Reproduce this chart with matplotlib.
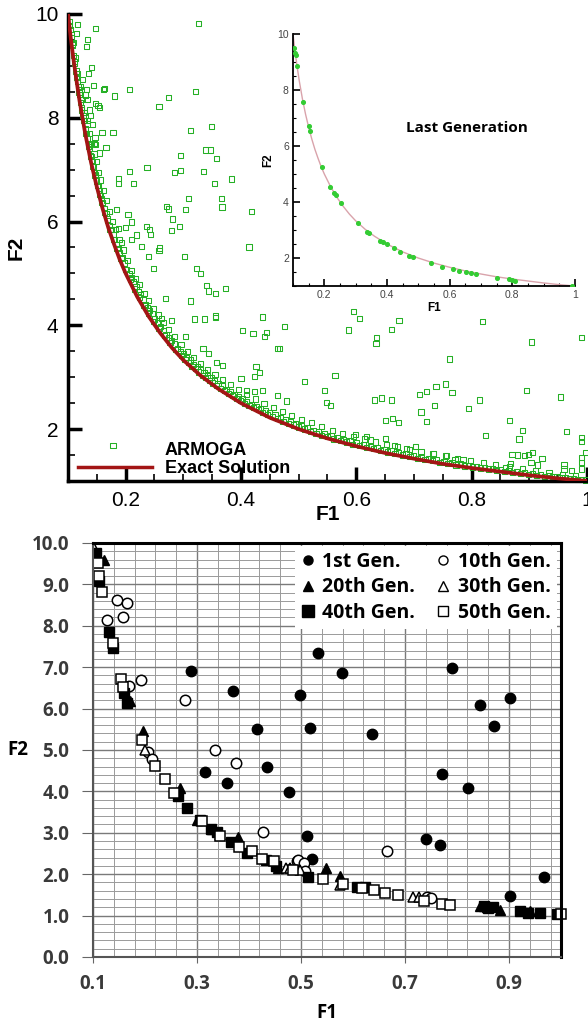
import matplotlib.pyplot as plt
from matplotlib.lines import Line2D
from matplotlib.ticker import MultipleLocator, FixedLocator, FormatStrFormatter

plt.rcParams['font.family'] = ['Liberation Sans', 'DejaVu Sans']

# ---- top panel: ARMOGA population vs exact front ----
exact_f1 = [0.1, 0.105, 0.11, 0.115, 0.12, 0.13, 0.14, 0.15, 0.16, 0.17, 0.18, 0.19, 0.2, 0.22, 0.24,
            0.26, 0.28, 0.3, 0.33, 0.36, 0.4, 0.45, 0.5, 0.55, 0.6, 0.65, 0.7, 0.75, 0.8, 0.85, 0.9, 0.95, 1.0]
exact_f2 = [10.0, 9.52, 9.09, 8.70, 8.33, 7.69, 7.14, 6.67, 6.25, 5.88, 5.56, 5.26, 5.0, 4.55, 4.17,
            3.85, 3.57, 3.33, 3.03, 2.78, 2.5, 2.22, 2.0, 1.82, 1.67, 1.54, 1.43, 1.33, 1.25, 1.18, 1.11, 1.05, 1.0]

# points packed along the front
front_f1 = [0.102, 0.104, 0.106, 0.108, 0.110, 0.112, 0.114, 0.116, 0.118, 0.120, 0.122, 0.124, 0.126, 0.128,
            0.130, 0.132, 0.134, 0.136, 0.138, 0.140, 0.142, 0.144, 0.146, 0.148, 0.150, 0.152, 0.154, 0.156,
            0.158, 0.160, 0.163, 0.166, 0.169, 0.172, 0.175, 0.178, 0.181, 0.184, 0.187, 0.190, 0.194, 0.198,
            0.202, 0.206, 0.210, 0.214, 0.218, 0.222, 0.226, 0.230, 0.234, 0.238, 0.242, 0.246, 0.250, 0.255,
            0.260, 0.265, 0.270, 0.275, 0.280, 0.285, 0.290, 0.295, 0.300, 0.306, 0.312, 0.318, 0.324, 0.330,
            0.336, 0.342, 0.348, 0.354, 0.360, 0.367, 0.374, 0.381, 0.388, 0.395, 0.402, 0.410, 0.418, 0.426,
            0.434, 0.442, 0.450, 0.459, 0.468, 0.477, 0.486, 0.495, 0.505, 0.515, 0.525, 0.535, 0.545, 0.556,
            0.567, 0.578, 0.589, 0.600, 0.612, 0.624, 0.636, 0.648, 0.660, 0.673, 0.686, 0.699, 0.712, 0.725,
            0.738, 0.752, 0.766, 0.780, 0.794, 0.808, 0.822, 0.836, 0.850, 0.864, 0.878, 0.892, 0.906, 0.920,
            0.934, 0.948, 0.962, 0.976, 0.990]
front_f2 = [9.85, 9.70, 9.55, 9.40, 9.20, 9.05, 8.90, 8.70, 8.60, 8.45, 8.30, 8.15, 8.05, 7.95,
            7.80, 7.70, 7.60, 7.45, 7.40, 7.25, 7.15, 7.05, 6.95, 6.90, 6.78, 6.70, 6.60, 6.50,
            6.45, 6.35, 6.25, 6.15, 6.05, 5.92, 5.85, 5.75, 5.65, 5.55, 5.48, 5.40, 5.30, 5.20,
            5.08, 5.00, 4.92, 4.85, 4.75, 4.65, 4.60, 4.50, 4.40, 4.35, 4.28, 4.22, 4.12, 4.05,
            3.98, 3.90, 3.82, 3.76, 3.70, 3.64, 3.56, 3.50, 3.45, 3.38, 3.33, 3.25, 3.20, 3.14,
            3.08, 3.03, 2.99, 2.93, 2.88, 2.83, 2.77, 2.72, 2.67, 2.62, 2.58, 2.53, 2.48, 2.44,
            2.39, 2.35, 2.31, 2.27, 2.22, 2.18, 2.14, 2.10, 2.06, 2.02, 1.98, 1.95, 1.91, 1.87,
            1.83, 1.80, 1.77, 1.74, 1.70, 1.67, 1.64, 1.61, 1.58, 1.55, 1.52, 1.49, 1.46, 1.44,
            1.41, 1.38, 1.36, 1.33, 1.30, 1.28, 1.26, 1.24, 1.22, 1.20, 1.18, 1.16, 1.14, 1.12,
            1.10, 1.08, 1.07, 1.05, 1.03]

# second, looser row just above the front
front2_f1 = [0.105, 0.109, 0.113, 0.117, 0.121, 0.125, 0.129, 0.133, 0.137, 0.141, 0.145, 0.149, 0.153, 0.157,
             0.162, 0.167, 0.172, 0.177, 0.183, 0.189, 0.196, 0.203, 0.210, 0.217, 0.224, 0.232, 0.240, 0.248,
             0.257, 0.266, 0.275, 0.285, 0.296, 0.307, 0.318, 0.330, 0.342, 0.355, 0.368, 0.382, 0.396, 0.410,
             0.425, 0.440, 0.456, 0.472, 0.488, 0.505, 0.522, 0.540, 0.558, 0.576, 0.595, 0.614, 0.633, 0.652,
             0.672, 0.692, 0.712, 0.733, 0.754, 0.776, 0.798, 0.820, 0.842, 0.865, 0.888, 0.911, 0.934, 0.957, 0.980]
front2_f2 = [9.70, 9.45, 9.15, 8.85, 8.60, 8.35, 8.10, 7.95, 7.70, 7.50, 7.30, 7.15, 6.95, 6.80,
             6.60, 6.40, 6.20, 6.00, 5.85, 5.65, 5.45, 5.25, 5.05, 4.90, 4.78, 4.62, 4.48, 4.33,
             4.20, 4.05, 3.92, 3.78, 3.63, 3.50, 3.38, 3.26, 3.15, 3.05, 2.96, 2.86, 2.76, 2.66,
             2.58, 2.50, 2.42, 2.34, 2.26, 2.19, 2.12, 2.05, 1.98, 1.92, 1.86, 1.81, 1.75, 1.71,
             1.66, 1.61, 1.57, 1.52, 1.48, 1.43, 1.39, 1.35, 1.31, 1.27, 1.24, 1.20, 1.16, 1.13, 1.10]

# third row, sitting right on the curve
front3_f1 = [0.103, 0.107, 0.111, 0.115, 0.119, 0.123, 0.127, 0.131, 0.135, 0.139, 0.143, 0.147, 0.151, 0.155,
             0.159, 0.164, 0.168, 0.173, 0.179, 0.185, 0.192, 0.200, 0.208, 0.216, 0.224, 0.232, 0.240, 0.249,
             0.258, 0.267, 0.277, 0.287, 0.297, 0.303, 0.309, 0.315, 0.321, 0.327, 0.333, 0.339, 0.345, 0.351,
             0.357, 0.364, 0.371, 0.378, 0.385, 0.392, 0.399, 0.406, 0.414, 0.422, 0.430, 0.438, 0.446, 0.455,
             0.464, 0.473, 0.482, 0.491, 0.500, 0.510, 0.520, 0.530, 0.540, 0.550, 0.561, 0.572, 0.583, 0.594,
             0.606, 0.618, 0.630, 0.642, 0.654, 0.667, 0.680, 0.693, 0.706, 0.719, 0.732, 0.745, 0.759, 0.773,
             0.787, 0.801, 0.815, 0.829, 0.843, 0.857, 0.871, 0.885, 0.899, 0.913, 0.927, 0.941, 0.955, 0.969,
             0.983, 0.997]
front3_f2 = [9.78, 9.42, 9.08, 8.78, 8.48, 8.20, 7.95, 7.70, 7.48, 7.27, 7.07, 6.88, 6.70, 6.53,
             6.36, 6.17, 6.02, 5.85, 5.66, 5.48, 5.28, 5.07, 4.88, 4.70, 4.53, 4.38, 4.23, 4.08,
             3.94, 3.81, 3.67, 3.54, 3.42, 3.34, 3.28, 3.21, 3.16, 3.10, 3.04, 2.99, 2.94, 2.89,
             2.84, 2.79, 2.74, 2.69, 2.64, 2.59, 2.55, 2.50, 2.46, 2.41, 2.37, 2.32, 2.28, 2.24,
             2.20, 2.15, 2.11, 2.08, 2.04, 2.00, 1.96, 1.92, 1.88, 1.85, 1.81, 1.78, 1.75, 1.71,
             1.68, 1.65, 1.62, 1.59, 1.56, 1.53, 1.50, 1.47, 1.44, 1.41, 1.39, 1.36, 1.34, 1.31,
             1.29, 1.27, 1.25, 1.23, 1.21, 1.19, 1.17, 1.15, 1.13, 1.11, 1.09, 1.08, 1.06, 1.05,
             1.03, 1.02]

# scattered (dominated) points
scat_f1 = [0.327, 0.148, 0.116, 0.115, 0.134, 0.132, 0.141, 0.136, 0.125, 0.120, 0.132, 0.144, 0.161, 0.163,
           0.207, 0.321, 0.180, 0.274, 0.258, 0.131, 0.133, 0.148, 0.152, 0.154, 0.138, 0.139, 0.133, 0.143,
           0.159, 0.178, 0.312, 0.349, 0.147, 0.146, 0.148, 0.166, 0.155, 0.295, 0.339, 0.347, 0.357, 0.237,
           0.207, 0.188, 0.187, 0.213, 0.285, 0.295, 0.335, 0.354, 0.383, 0.309, 0.366, 0.367, 0.418, 0.271,
           0.274, 0.304, 0.184, 0.204, 0.281, 0.293, 0.279, 0.236, 0.242, 0.243, 0.219, 0.210, 0.200, 0.187,
           0.210, 0.227, 0.259, 0.414, 0.193,
           0.239, 0.258, 0.302, 0.249, 0.323, 0.330, 0.340, 0.344, 0.356, 0.373, 0.269, 0.312, 0.262, 0.279,
           0.319, 0.337, 0.356, 0.356, 0.437, 0.475, 0.402, 0.421, 0.441, 0.444, 0.304, 0.464, 0.334, 0.343,
           0.358, 0.368, 0.426, 0.432, 0.424, 0.400, 0.410, 0.424, 0.438, 0.463, 0.479, 0.178,
           0.467, 0.595, 0.606, 0.586, 0.674, 0.661, 0.635, 0.634, 0.819, 0.904, 0.990, 0.761, 0.563, 0.510,
           0.545, 0.548, 0.555, 0.632, 0.643, 0.661, 0.709, 0.721, 0.738, 0.755, 0.766, 0.735, 0.712, 0.722,
           0.794, 0.813, 0.895, 0.954, 0.865, 0.888, 0.882, 0.824, 0.964, 0.990, 0.990, 0.651, 0.663, 0.673,
           0.599, 0.618, 0.625, 0.650, 0.666, 0.687, 0.702, 0.734, 0.757, 0.771, 0.785, 0.870, 0.879, 0.891,
           0.899, 0.905, 0.922, 0.903, 0.914, 0.859, 0.868, 0.960, 0.960, 0.973, 0.990, 0.990, 0.990, 0.997]
scat_f2 = [9.81, 9.72, 9.79, 9.63, 9.51, 9.37, 8.97, 8.86, 8.73, 8.55, 8.55, 8.62, 8.55, 8.56,
           8.54, 8.51, 8.42, 8.39, 8.22, 8.44, 8.35, 8.27, 8.23, 8.19, 8.15, 8.04, 7.88, 7.87,
           7.71, 7.71, 7.76, 7.83, 7.62, 7.50, 7.48, 7.42, 7.32, 7.27, 7.38, 7.38, 7.22, 7.04,
           6.96, 6.83, 6.73, 6.73, 6.94, 6.98, 6.96, 6.74, 6.82, 6.44, 6.44, 6.28, 6.19, 6.29,
           6.24, 6.23, 6.23, 6.13, 6.05, 5.90, 5.82, 5.91, 5.85, 5.75, 5.74, 5.65, 5.88, 5.86,
           5.99, 5.52, 5.49, 5.51, 5.59,
           5.32, 5.44, 5.32, 5.09, 5.10, 5.00, 4.77, 4.66, 4.62, 4.71, 4.52, 4.47, 4.13, 4.10,
           4.12, 4.12, 4.18, 4.15, 4.16, 3.97, 3.90, 3.84, 3.79, 3.86, 3.78, 3.55, 3.55, 3.46,
           3.28, 3.23, 3.21, 3.09, 3.02, 2.98, 2.75, 2.72, 2.75, 2.64, 2.54, 1.69,
           3.56, 4.26, 4.13, 3.91, 4.10, 3.92, 3.76, 3.65, 4.08, 3.68, 3.76, 3.35, 3.04, 2.91,
           2.74, 2.51, 2.45, 2.56, 2.60, 2.56, 2.66, 2.72, 2.82, 2.87, 2.71, 2.46, 2.33, 2.14,
           2.40, 2.56, 2.75, 2.62, 2.16, 1.97, 1.81, 1.87, 1.95, 1.84, 1.76, 2.16, 2.21, 2.13,
           1.89, 1.86, 1.79, 1.82, 1.68, 1.63, 1.67, 1.53, 1.49, 1.42, 1.41, 1.51, 1.50, 1.49,
           1.51, 1.55, 1.44, 1.36, 1.31, 1.26, 1.33, 1.31, 1.23, 1.20, 1.46, 1.36, 1.23, 1.55]

# inset: last generation
last_f1 = [0.103, 0.106, 0.109, 0.114, 0.133, 0.150, 0.154, 0.191, 0.217, 0.230, 0.236, 0.252, 0.307, 0.337,
           0.342, 0.378, 0.387, 0.399, 0.421, 0.442, 0.471, 0.482, 0.540, 0.577, 0.612, 0.630, 0.651, 0.667,
           0.685, 0.752, 0.789, 0.799, 0.810, 0.990]
last_f2 = [9.52, 9.31, 9.25, 8.86, 7.58, 6.73, 6.54, 5.24, 4.54, 4.33, 4.25, 3.95, 3.24, 2.94,
           2.90, 2.62, 2.56, 2.50, 2.35, 2.22, 2.08, 2.05, 1.81, 1.69, 1.60, 1.55, 1.49, 1.48,
           1.43, 1.30, 1.24, 1.21, 1.19, 1.01]

# ---- bottom panel: population by generation ----
gen1_f1 = [0.288, 0.369, 0.415, 0.498, 0.434, 0.533, 0.579, 0.517, 0.637, 0.791, 0.844, 0.901, 0.872, 0.315,
           0.357, 0.476, 0.772, 0.822, 0.512, 0.521, 0.740, 0.767, 0.902, 0.967]
gen1_f2 = [6.91, 6.42, 5.50, 6.32, 4.58, 7.35, 6.87, 5.53, 5.39, 6.97, 6.08, 6.25, 5.59, 4.46,
           4.19, 3.98, 4.43, 4.08, 2.91, 2.37, 2.85, 2.70, 1.48, 1.94]
gen10_f1 = [0.147, 0.165, 0.126, 0.158, 0.192, 0.170, 0.277, 0.335, 0.375, 0.206, 0.213, 0.426, 0.493, 0.665,
            0.495, 0.505, 0.508, 0.742, 0.750]
gen10_f2 = [8.62, 8.54, 8.14, 8.20, 6.68, 6.54, 6.21, 5.01, 4.69, 4.95, 4.79, 3.01, 2.31, 2.57,
            2.35, 2.27, 2.07, 1.46, 1.42]
gen20_f1 = [0.122, 0.197, 0.171, 0.267, 0.379, 0.328, 0.549, 0.575, 0.883, 0.844, 0.857, 0.940, 0.300, 0.455]
gen20_f2 = [9.59, 5.46, 6.18, 4.08, 2.90, 3.10, 2.15, 1.96, 1.14, 1.22, 1.20, 1.12, 3.30, 2.15]
gen30_f1 = [0.100, 0.200, 0.716, 0.575, 0.498, 0.472, 0.726, 0.479, 0.345]
gen30_f2 = [9.93, 5.01, 1.46, 1.74, 2.11, 2.15, 1.44, 2.15, 2.95]
gen40_f1 = [0.105, 0.111, 0.131, 0.139, 0.160, 0.165, 0.264, 0.280, 0.306, 0.326, 0.338, 0.365, 0.396, 0.432,
            0.452, 0.607, 0.623, 0.851, 0.860, 0.870, 0.921, 0.937, 0.960, 0.992, 0.514]
gen40_f2 = [9.76, 9.09, 7.84, 7.46, 6.38, 6.14, 3.88, 3.60, 3.32, 3.08, 3.03, 2.77, 2.51, 2.35,
            2.19, 1.70, 1.68, 1.22, 1.19, 1.20, 1.10, 1.07, 1.07, 1.04, 1.94]
gen50_f1 = [0.109, 0.112, 0.117, 0.138, 0.154, 0.158, 0.194, 0.219, 0.238, 0.256, 0.309, 0.344, 0.381, 0.406,
            0.425, 0.448, 0.485, 0.543, 0.581, 0.617, 0.640, 0.661, 0.687, 0.736, 0.771, 0.787, 1.000]
gen50_f2 = [9.51, 9.21, 8.82, 7.59, 6.72, 6.52, 5.24, 4.61, 4.29, 3.96, 3.28, 2.93, 2.66, 2.55,
            2.37, 2.31, 2.11, 1.88, 1.76, 1.66, 1.62, 1.54, 1.50, 1.34, 1.28, 1.26, 1.04]

green = '#25b025'
red = '#a31515'

fig = plt.figure(figsize=(5.88, 10.26), dpi=100)

# top panel
ax1 = fig.add_axes([0.1156, 0.5312, 0.8827, 0.4552])
for xs, ys in [(front_f1, front_f2), (front2_f1, front2_f2), (front3_f1, front3_f2), (scat_f1, scat_f2)]:
    ax1.scatter(xs, ys, marker='s', s=14, facecolors='none', edgecolors=green, linewidths=0.75,
                zorder=2, clip_on=False)
ax1.plot(exact_f1, exact_f2, color=red, lw=2.7, zorder=3)
ax1.set_xlim(0.1, 1)
ax1.set_ylim(1, 10)
ax1.set_xticks([0.2, 0.4, 0.6, 0.8, 1.0])
ax1.set_xticklabels(['0.2', '0.4', '0.6', '0.8', '1'])
ax1.set_yticks([2, 4, 6, 8, 10])
ax1.xaxis.set_minor_locator(MultipleLocator(0.05))
ax1.yaxis.set_minor_locator(MultipleLocator(0.5))
ax1.tick_params(which='major', direction='in', length=10, width=2.5, labelsize=15, pad=7)
ax1.tick_params(which='minor', direction='in', length=5, width=1.2)
for s in ['top', 'right']:
    ax1.spines[s].set_visible(False)
for s in ['left', 'bottom']:
    ax1.spines[s].set_linewidth(2.5)
ax1.set_xlabel('F1', fontsize=15, fontweight='bold')
ax1.xaxis.set_label_coords(0.5, -0.052)
ax1.set_ylabel('F2', fontsize=15, fontweight='bold')
ax1.yaxis.set_label_coords(-0.082, 0.5)

h_arm = Line2D([], [], linestyle='none')
h_exact = Line2D([], [], color=red, lw=2.5)
ax1.legend([h_arm, h_exact], ['ARMOGA', 'Exact Solution'], loc='lower left', bbox_to_anchor=(-0.012, -0.027),
           frameon=False, handlelength=4.1, handletextpad=0.7, labelspacing=0.1,
           prop={'size': 13, 'weight': 'bold'})

# inset
axi = fig.add_axes([0.4983, 0.7212, 0.4796, 0.2456])
axi.plot(exact_f1, exact_f2, color='#d9a3ab', lw=1, zorder=2)
axi.scatter(last_f1, last_f2, s=7, color='#33cc33', zorder=3)
axi.set_xlim(0.1, 1)
axi.set_ylim(1, 10)
axi.set_xticks([0.2, 0.4, 0.6, 0.8, 1.0])
axi.set_xticklabels(['0.2', '0.4', '0.6', '0.8', '1'])
axi.set_yticks([2, 4, 6, 8, 10])
axi.xaxis.set_minor_locator(MultipleLocator(0.05))
axi.yaxis.set_minor_locator(MultipleLocator(0.5))
axi.tick_params(which='major', direction='in', length=5, width=1.2, labelsize=7.5, labelcolor='#444', pad=3)
axi.tick_params(which='minor', direction='in', length=2.5, width=0.8)
for s in ['top', 'right']:
    axi.spines[s].set_visible(False)
for s in ['left', 'bottom']:
    axi.spines[s].set_linewidth(1.3)
axi.set_xlabel('F1', fontsize=8.5, fontweight='bold', labelpad=1)
axi.set_ylabel('F2', fontsize=8.5, fontweight='bold', labelpad=2)
axi.text(0.617, 0.627, 'Last Generation', transform=axi.transAxes, ha='center', va='center',
         fontsize=11, fontweight='bold', family=['Open Sans', 'DejaVu Sans'])

# bottom panel
bfont = ['Open Sans', 'DejaVu Sans']
ax2 = fig.add_axes([0.1582, 0.0673, 0.7959, 0.4035])
ax2.set_axisbelow(True)
ms = 7.5
ax2.plot(gen1_f1, gen1_f2, 'o', color='black', ms=ms, ls='none')
ax2.plot(gen10_f1, gen10_f2, 'o', mfc='white', mec='black', mew=1.1, ms=ms, ls='none')
ax2.plot(gen20_f1, gen20_f2, '^', color='black', ms=ms, ls='none')
ax2.plot(gen30_f1, gen30_f2, '^', mfc='white', mec='black', mew=1.1, ms=ms, ls='none')
ax2.plot(gen40_f1, gen40_f2, 's', color='black', ms=ms, ls='none')
ax2.plot(gen50_f1, gen50_f2, 's', mfc='white', mec='black', mew=1.1, ms=ms, ls='none', clip_on=False)
ax2.set_xlim(0.1, 1.0)
ax2.set_ylim(0, 10)
ax2.xaxis.set_major_locator(FixedLocator([0.1, 0.3, 0.5, 0.7, 0.9]))
ax2.xaxis.set_minor_locator(MultipleLocator(0.04, offset=0.1))
ax2.xaxis.set_major_formatter(FormatStrFormatter('%.1f'))
ax2.yaxis.set_major_locator(MultipleLocator(1.0))
ax2.yaxis.set_minor_locator(MultipleLocator(0.2))
ax2.yaxis.set_major_formatter(FormatStrFormatter('%.1f'))
ax2.grid(which='major', color='#7a7a7a', lw=1.0)
ax2.grid(which='minor', color='#9a9a9a', lw=0.7)
ax2.tick_params(axis='x', which='major', direction='out', length=4, color='#666', pad=8)
ax2.tick_params(axis='y', which='major', direction='out', length=8, color='#666', pad=9)
ax2.tick_params(which='minor', length=0)
for lab in ax2.get_xticklabels() + ax2.get_yticklabels():
    lab.set_fontweight('bold')
    lab.set_fontsize(13.5)
    lab.set_color('#3a3a3a')
    lab.set_family(bfont)
for s in ['top', 'right']:
    ax2.spines[s].set_linewidth(2.2)
    ax2.spines[s].set_color('black')
for s in ['left', 'bottom']:
    ax2.spines[s].set_linewidth(1.5)
    ax2.spines[s].set_color('#555')
ax2.set_xlabel('F1', fontsize=13.5, fontweight='bold', family=bfont, va='center')
ax2.xaxis.set_label_coords(0.5, -0.135)
ax2.set_ylabel('F2', fontsize=13.5, fontweight='bold', family=bfont, rotation=0, va='center', ha='center')
ax2.yaxis.set_label_coords(-0.16, 0.5)

lms = 6.5
handles = [
    Line2D([], [], marker='o', color='black', ls='none', ms=lms),
    Line2D([], [], marker='^', color='black', ls='none', ms=lms),
    Line2D([], [], marker='s', color='black', ls='none', ms=lms + 1.5),
    Line2D([], [], marker='o', mfc='white', mec='black', ls='none', ms=lms),
    Line2D([], [], marker='^', mfc='white', mec='black', ls='none', ms=lms),
    Line2D([], [], marker='s', mfc='white', mec='black', ls='none', ms=lms),
]
labels = ['1st Gen.', '20th Gen.', '40th Gen.', '10th Gen.', '30th Gen.', '50th Gen.']
leg = ax2.legend(handles, labels, ncol=2, loc='upper right', bbox_to_anchor=(0.995, 0.998),
                 handlelength=0.7, handletextpad=0.4, columnspacing=1.1, labelspacing=0.3,
                 borderaxespad=0.1, borderpad=0.3, fancybox=False, framealpha=1,
                 prop={'size': 14, 'weight': 'bold', 'family': bfont})
leg.get_frame().set_edgecolor('none')

fig.savefig('out.png', dpi=100)
